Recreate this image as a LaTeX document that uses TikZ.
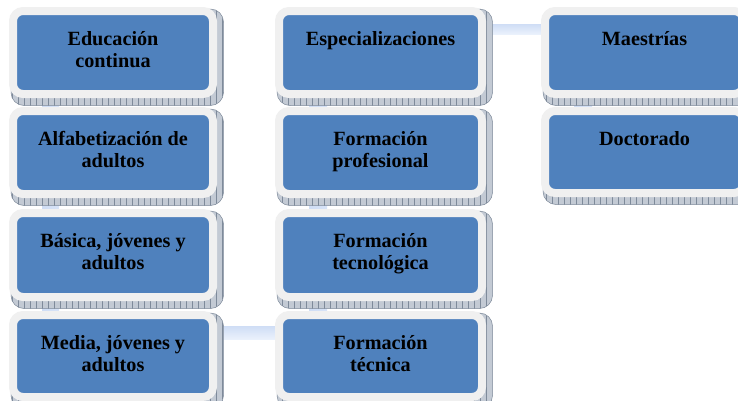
\documentclass[tikz,border=0pt]{standalone}
\usepackage{fontspec}
\setmainfont{Liberation Serif}
\usetikzlibrary{calc,patterns.meta}
\definecolor{boxblue}{HTML}{4F81BD}
\definecolor{ringgray}{HTML}{F0F0F0}
\definecolor{shadowgray}{HTML}{C3CAD4}
\definecolor{shadowline}{HTML}{7E8A9A}
\definecolor{linktop}{HTML}{CFDDF5}
\definecolor{linkbot}{HTML}{EAF1FC}
\pgfdeclarelayer{bg}
\pgfsetlayers{bg,main}
\begin{document}
\begin{tikzpicture}[x=1pt,y=-1pt,
  box/.style={draw=ringgray, line width=8pt, fill=boxblue, rounded corners=10pt, inner sep=0pt},
  boxtext/.style={anchor=base, align=center, inner sep=0pt, font=\bfseries\fontsize{20.2}{21.5}\selectfont},
  shadowbox/.style={fill=shadowgray, draw=shadowline, line width=0.5pt, rounded corners=13pt},
  shadowhatch/.style={pattern={Lines[angle=90,distance=6pt,line width=0.35pt]}, pattern color=shadowline, rounded corners=13pt},
  hlink/.style={top color=linktop, bottom color=linkbot},
  vlink/.style={left color=linktop, right color=linktop!70!linkbot}]
\useasboundingbox (0,0) rectangle (738,400);
\clip (0,0) rectangle (738,400);
% column 1
\node[box, minimum width=200pt, minimum height=83pt] (edu) at (113,52.5) {};
\node[box, minimum width=200pt, minimum height=83pt] (alf) at (113,152.5) {};
\node[box, minimum width=200pt, minimum height=84pt] (bas) at (113,255) {};
\node[box, minimum width=200pt, minimum height=82pt] (med) at (113,356) {};
% column 2
\node[box, minimum width=203pt, minimum height=83pt] (esp) at (380.5,52.5) {};
\node[box, minimum width=203pt, minimum height=83pt] (fpro) at (380.5,152.5) {};
\node[box, minimum width=203pt, minimum height=84pt] (ftec) at (380.5,255) {};
\node[box, minimum width=203pt, minimum height=82pt] (ftcn) at (380.5,356) {};
% column 3
\node[box, minimum width=199pt, minimum height=83pt] (mae) at (644.5,52.5) {};
\node[box, minimum width=199pt, minimum height=82pt] (doc) at (644.5,152) {};
% texts (base anchor = baseline of the last line)
\node[boxtext] (edu-t) at ($(edu.north)+(0,60)$) {Educación\\continua};
\node[boxtext] (alf-t) at ($(alf.north)+(0,60)$) {Alfabetización de\\adultos};
\node[boxtext] (bas-t) at ($(bas.north)+(0,60)$) {Básica, jóvenes y\\adultos};
\node[boxtext] (med-t) at ($(med.north)+(0,60)$) {Media, jóvenes y\\adultos};
\node[boxtext] (esp-t) at ($(esp.north)+(0,38.5)$) {Especializaciones};
\node[boxtext] (fpro-t) at ($(fpro.north)+(0,60)$) {Formación\\profesional};
\node[boxtext] (ftec-t) at ($(ftec.north)+(0,60)$) {Formación\\tecnológica};
\node[boxtext] (ftcn-t) at ($(ftcn.north)+(0,60)$) {Formación\\técnica};
\node[boxtext] (mae-t) at ($(mae.north)+(0,38.5)$) {Maestrías};
\node[boxtext] (doc-t) at ($(doc.north)+(0,38.5)$) {Doctorado};
\begin{pgfonlayer}{bg}
  % connectors
  \shade[vlink] ($(edu.south west)+(33,0)$) rectangle ($(med.north west)+(50,0)$);
  \shade[vlink] ($(esp.south west)+(34,0)$) rectangle ($(ftcn.north west)+(52,0)$);
  \shade[vlink] ($(mae.south west)+(33,0)$) rectangle ($(doc.north west)+(51,0)$);
  \shade[hlink] ($(esp.north east)+(0,17)$) rectangle ($(mae.north west)+(0,27)$);
  \shade[hlink] ($(med.north east)+(0,15)$) rectangle ($(ftcn.north west)+(0,28)$);
  % shadows
  \foreach \n in {edu,alf,bas,med,esp,fpro,ftec,ftcn,mae,doc}{
    \draw[shadowbox] ($(\n.north west)+(2,2)$) rectangle ($(\n.south east)+(6.5,7.5)$);
    \fill[shadowhatch] ($(\n.north west)+(2,2)$) rectangle ($(\n.south east)+(6.5,7.5)$);
  }
\end{pgfonlayer}
\end{tikzpicture}
\end{document}
